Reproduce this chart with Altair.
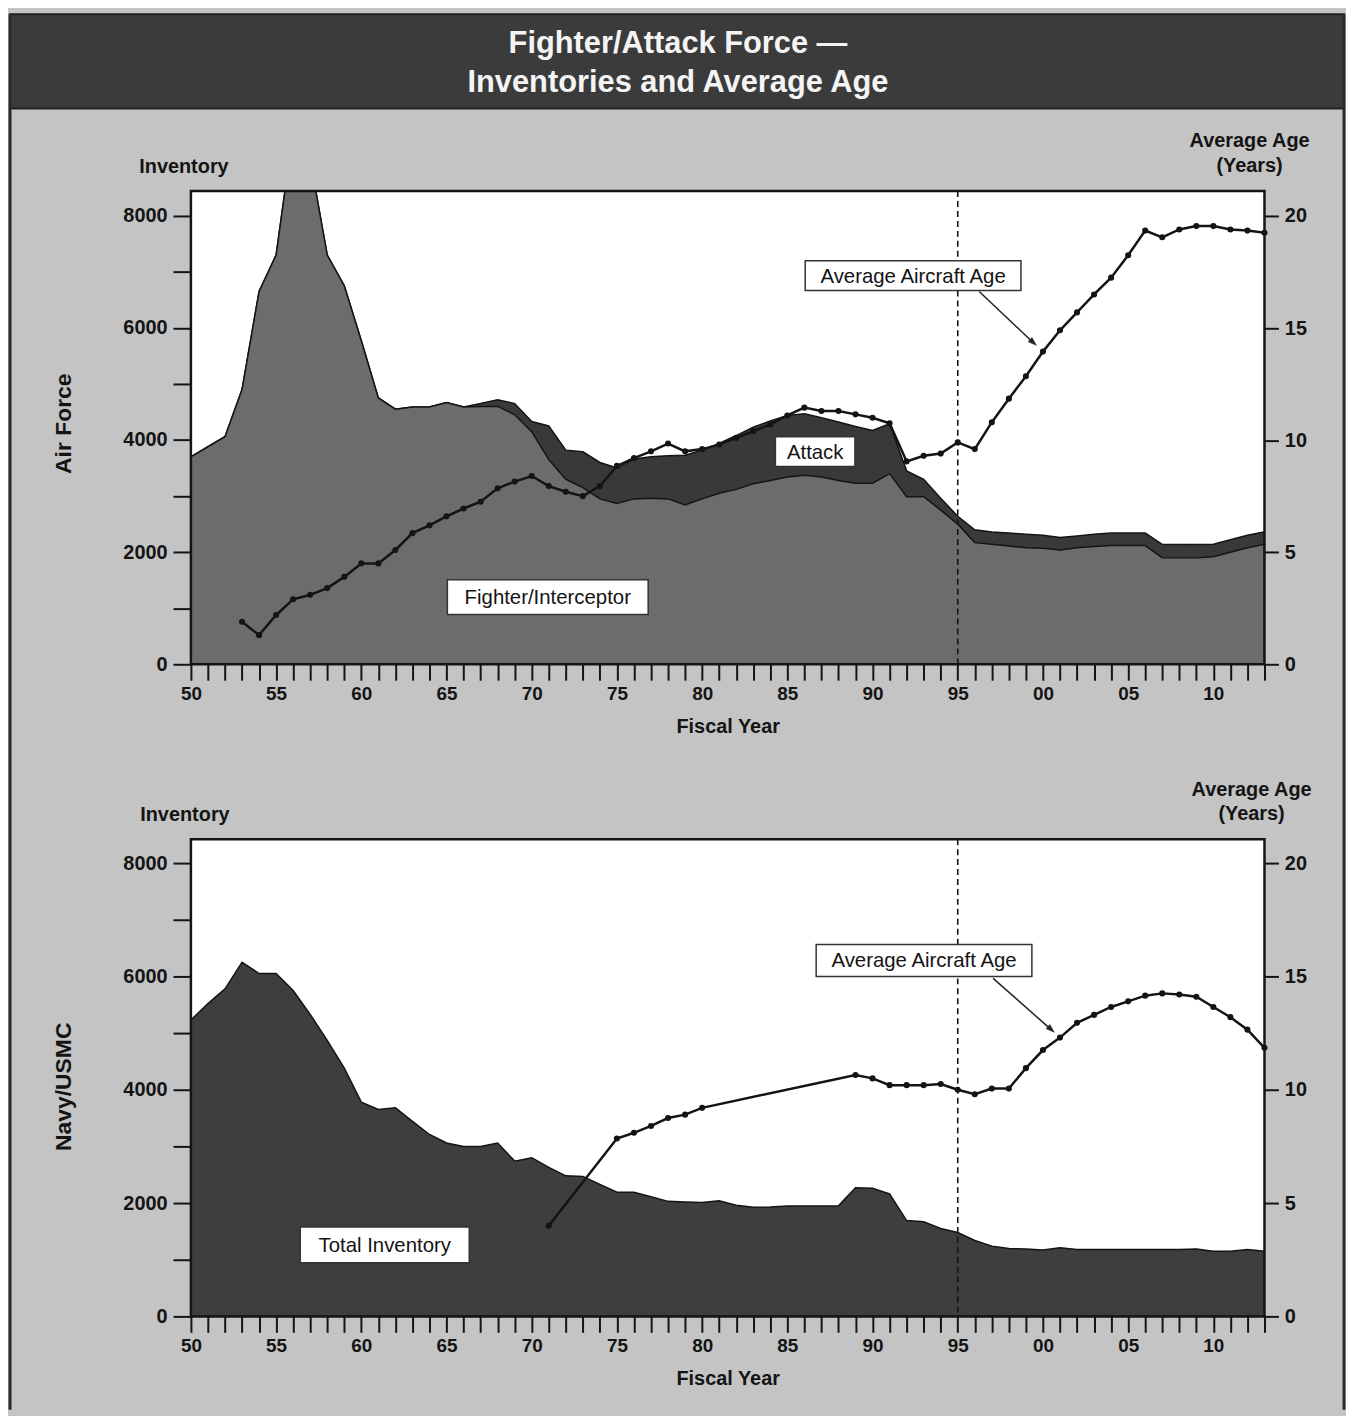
import altair as alt
import pandas as pd

FONT = "Liberation Sans"

# ---------------- data ----------------
years = list(range(1950, 2014))

af_total = [3700, 3880, 4060, 4900, 6650, 7300, 9500, 9000, 7300, 6750,
            5770, 4750, 4550, 4590, 4590, 4670, 4590, 4650, 4720, 4650,
            4330, 4250, 3820, 3790, 3600, 3500, 3660, 3700, 3720, 3730,
            3820, 3940, 4080, 4230, 4340, 4440, 4470, 4400, 4320, 4240,
            4170, 4290, 3450, 3300, 2960, 2640, 2400, 2360, 2340, 2320,
            2300, 2260, 2290, 2320, 2340, 2340, 2340, 2140, 2135, 2135,
            2140, 2220, 2300, 2360]

af_fighter = [3700, 3880, 4060, 4900, 6650, 7300, 9500, 9000, 7300, 6750,
              5770, 4750, 4550, 4590, 4590, 4670, 4590, 4600, 4600, 4450,
              4150, 3650, 3300, 3150, 2950, 2870, 2950, 2960, 2950, 2840,
              2950, 3050, 3120, 3220, 3280, 3340, 3370, 3340, 3280, 3230,
              3230, 3400, 2990, 2990, 2750, 2500, 2170, 2140, 2110, 2080,
              2070, 2040, 2080, 2100, 2117, 2117, 2117, 1900, 1898, 1898,
              1920, 2000, 2080, 2140]

af_age_years = list(range(1953, 2014))
af_age = [1.9, 1.3, 2.2, 2.9, 3.1, 3.4, 3.9, 4.5, 4.5, 5.1,
          5.85, 6.2, 6.6, 6.95, 7.25, 7.85, 8.15, 8.4, 7.95, 7.7,
          7.5, 7.95, 8.85, 9.2, 9.5, 9.85, 9.5, 9.6, 9.8, 10.1,
          10.4, 10.7, 11.1, 11.45, 11.3, 11.3, 11.15, 11.0, 10.75, 9.05,
          9.3, 9.4, 9.9, 9.6, 10.8, 11.85, 12.85, 13.95, 14.9, 15.7,
          16.5, 17.25, 18.25, 19.35, 19.05, 19.4, 19.55, 19.55, 19.4, 19.35,
          19.25]

navy_total = [5230, 5520, 5780, 6250, 6050, 6050, 5750, 5330, 4870, 4380,
              3780, 3650, 3680, 3440, 3210, 3060, 3000, 3000, 3060, 2740,
              2800, 2630, 2480, 2470, 2330, 2190, 2190, 2110, 2030, 2020,
              2010, 2040, 1960, 1925, 1930, 1950, 1950, 1950, 1950, 2270,
              2260, 2160, 1690, 1670, 1550, 1480, 1340, 1240, 1200, 1190,
              1170, 1210, 1180, 1180, 1180, 1180, 1180, 1180, 1180, 1190,
              1150, 1150, 1180, 1150]

navy_age_years = [1971, 1975, 1976, 1977, 1978, 1979, 1980] + list(range(1989, 2014))
navy_age = [4.0, 7.85, 8.1, 8.4, 8.75, 8.9, 9.2,
            10.65, 10.5, 10.2, 10.2, 10.2, 10.25, 10.0, 9.8, 10.05, 10.05,
            10.95, 11.75, 12.3, 12.95, 13.3, 13.65, 13.9, 14.15, 14.25, 14.2,
            14.1, 13.65, 13.2, 12.65, 11.85]

# ---------------- styles ----------------
BG = "#c4c4c4"
BANNER = "#3b3b3b"
FIGHTER = "#6c6c6c"
ATTACK = "#393939"
NAVY = "#3e3e3e"
INK = "#141414"
W = 1080
ARROW_PATH = "M0,-1L0.6,0.8L-0.6,0.8Z"

one = pd.DataFrame({"a": [0]})


def xenc():
    return alt.X(
        "year:Q",
        scale=alt.Scale(domain=[1950, 2013], nice=False, zero=False),
        axis=alt.Axis(
            values=years,
            labelExpr="datum.value % 5 == 0 ? slice(toString(datum.value), 2) : ''",
            tickSize=16, tickWidth=2, tickColor=INK, domain=False, grid=False,
            labelFont=FONT, labelFontSize=19, labelFontWeight="bold", labelColor=INK,
            labelPadding=4, labelFlush=False, labelOverlap=False,
            title="Fiscal Year", titleFont=FONT, titleFontSize=20,
            titleFontWeight="bold", titleColor=INK, titlePadding=14, zindex=1,
        ),
    )


def yinv(field, ymax):
    return alt.Y(
        f"{field}:Q",
        scale=alt.Scale(domain=[0, ymax], nice=False, zero=True),
        axis=alt.Axis(
            values=list(range(0, 9000, 1000)),
            labelExpr="datum.value % 2000 == 0 ? datum.label : ''",
            format="d", tickSize=18, tickWidth=2, tickColor=INK,
            domain=False, grid=False, labelFont=FONT, labelFontSize=20,
            labelFontWeight="bold", labelColor=INK, labelPadding=6,
            labelOverlap=False, title=None, zindex=1,
        ),
    )


def yage(agemax):
    return alt.Y(
        "age:Q",
        scale=alt.Scale(domain=[0, agemax], nice=False, zero=True),
        axis=alt.Axis(
            orient="right", values=[0, 5, 10, 15, 20], tickSize=14, tickWidth=2,
            tickColor=INK, domain=False, grid=False, labelFont=FONT,
            labelFontSize=20, labelFontWeight="bold", labelColor=INK,
            labelPadding=6, labelOverlap=False, title=None, zindex=1,
        ),
    )


def box(x1, y1, x2, y2):
    return alt.Chart(one).mark_rect(fill="white", stroke="#333333", strokeWidth=1.5).encode(
        x=alt.value(x1), x2=alt.value(x2), y=alt.value(y1), y2=alt.value(y2))


def txt(x, y, text, size, weight="normal", color=INK, angle=0):
    return alt.Chart(one).mark_text(
        text=text, font=FONT, fontSize=size, fontWeight=weight, color=color,
        align="center", baseline="middle", angle=angle).encode(
        x=alt.value(x), y=alt.value(y))


def seg(x1, y1, x2, y2, color="#222222", width=1.5):
    return alt.Chart(one).mark_rule(color=color, strokeWidth=width).encode(
        x=alt.value(x1), y=alt.value(y1), x2=alt.value(x2), y2=alt.value(y2))


def head(x, y, angle):
    return alt.Chart(one).mark_point(shape=ARROW_PATH, filled=True, fill="#222222",
                                     stroke="#222222", strokeWidth=0.5,
                                     opacity=1, size=90, angle=angle).encode(
        x=alt.value(x), y=alt.value(y))


def age_line(df, agemax):
    return alt.Chart(df).mark_line(
        color=INK, strokeWidth=2.5,
        point=alt.OverlayMarkDef(filled=True, color=INK, size=38, opacity=1),
    ).encode(x=xenc(), y=yage(agemax))


def rule95(h):
    return alt.Chart(pd.DataFrame({"year": [1995]})).mark_rule(
        color=INK, strokeWidth=1.6, strokeDash=[6, 4]).encode(
        x=xenc(), y=alt.value(0), y2=alt.value(h))


def border(h):
    return alt.Chart(one).mark_rect(fillOpacity=0, stroke=INK, strokeWidth=2.5).encode(
        x=alt.value(0), x2=alt.value(W), y=alt.value(0), y2=alt.value(h))


# ---------------- top panel (Air Force) ----------------
H1 = 476
YMAX1 = 8440
AGEMAX1 = 21.11

df_af = pd.DataFrame({"year": years, "total": af_total, "fighter": af_fighter})
df_af_age = pd.DataFrame({"year": af_age_years, "age": af_age})

af_areas = alt.layer(
    alt.Chart(df_af).mark_area(color=ATTACK, stroke=INK, strokeWidth=1.5, clip=True).encode(
        x=xenc(), y=yinv("total", YMAX1)),
    alt.Chart(df_af).mark_area(color=FIGHTER, stroke=INK, strokeWidth=1.5, clip=True).encode(
        x=xenc(), y=yinv("fighter", YMAX1)),
)

top = alt.layer(
    # banner and outer frame
    alt.Chart(one).mark_rect(fill=BANNER, stroke="#222222", strokeWidth=2).encode(
        x=alt.value(-182), x2=alt.value(1160), y=alt.value(-178), y2=alt.value(-83)),
    txt(490, -148, "Fighter/Attack Force \u2014", 31, "bold", "#f4f4f4"),
    txt(490, -109, "Inventories and Average Age", 31, "bold", "#f4f4f4"),
    seg(-182, -178, -182, 1226, "#2a2a2a", 3),
    seg(1160, -178, 1160, 1226, "#2a2a2a", 3),
    af_areas,
    rule95(H1),
    age_line(df_af_age, AGEMAX1),
    border(H1),
    # outside labels
    txt(-7, -24, "Inventory", 20, "bold"),
    txt(1065, -50, "Average Age", 20, "bold"),
    txt(1065, -25, "(Years)", 20, "bold"),
    txt(-128, 234, "Air Force", 23, "bold", angle=270),
    # annotations
    seg(793, 101, 848, 153),
    head(847, 152, 132),
    box(618, 70, 835, 100),
    txt(726.5, 86, "Average Aircraft Age", 20.5),
    box(588, 247, 668, 277),
    txt(628, 263, "Attack", 20.5),
    box(258, 391, 460, 426),
    txt(359, 409, "Fighter/Interceptor", 20.5),
).resolve_scale(y="independent").properties(width=W, height=H1)

# ---------------- bottom panel (Navy/USMC) ----------------
H2 = 480
YMAX2 = 8420
AGEMAX2 = 21.05

df_navy = pd.DataFrame({"year": years, "total": navy_total})
df_navy_age = pd.DataFrame({"year": navy_age_years, "age": navy_age})

navy_areas = alt.layer(
    alt.Chart(df_navy).mark_area(color=NAVY, stroke=INK, strokeWidth=1.5, clip=True).encode(
        x=xenc(), y=yinv("total", YMAX2)),
)

bottom = alt.layer(
    navy_areas,
    rule95(H2),
    age_line(df_navy_age, AGEMAX2),
    border(H2),
    txt(-6, -24, "Inventory", 20, "bold"),
    txt(1067, -50, "Average Age", 20, "bold"),
    txt(1067, -25, "(Years)", 20, "bold"),
    txt(-128, 249, "Navy/USMC", 23, "bold", angle=270),
    seg(807, 140, 866, 192),
    head(865, 191, 132),
    box(629, 106, 846, 138),
    txt(737.5, 123, "Average Aircraft Age", 20.5),
    box(110, 390, 280, 426),
    txt(195, 409, "Total Inventory", 20.5),
).resolve_scale(y="independent").properties(width=W, height=H2)

chart = alt.vconcat(top, bottom, spacing=176, bounds="flush").properties(
    padding=0, background=BG
).configure_view(stroke=None, fill="white")

chart.save("out.html", embed_options={"renderer": "svg", "actions": False})
